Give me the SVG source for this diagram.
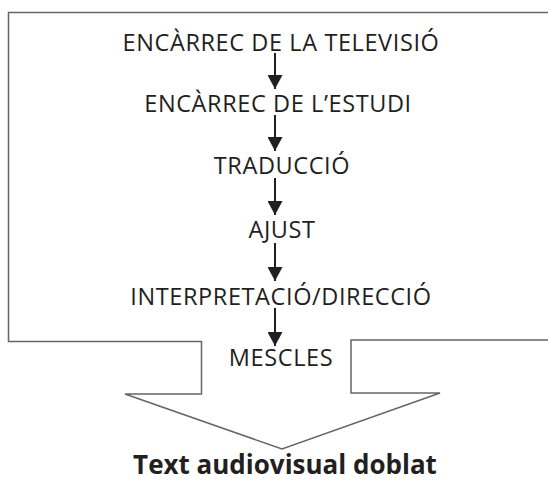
<svg xmlns="http://www.w3.org/2000/svg" width="548" height="481" viewBox="0 0 548 481">
<style>
.lbl{font-family:"Open Sans","Noto Sans",sans-serif;font-size:23.5px;letter-spacing:0.6px;fill:#231f20;text-anchor:middle}
.out{font-family:"Open Sans","Noto Sans",sans-serif;font-size:26px;font-weight:bold;fill:#231f20;text-anchor:middle}
.edge{stroke:#231f20;stroke-width:2;fill:none}
.frame{stroke:#666;stroke-width:1.5;fill:none}
</style>
<defs>
<marker id="ah" viewBox="0 0 14 15" refX="14" refY="7.5" markerWidth="14" markerHeight="15" markerUnits="userSpaceOnUse" orient="auto">
<path d="M0,0 L14,7.5 L0,15 Z" fill="#231f20"/>
</marker>
</defs>
<g id="frame">
<path class="frame" d="M548,12.5 H8.5 V341.5 H201.5 V394 H125 L282,449 L440,393 H351 V340 H548"/>
</g>
<g id="connectors">
<line class="edge" x1="275" y1="53" x2="275" y2="89" marker-end="url(#ah)"/>
<line class="edge" x1="275" y1="115" x2="275" y2="151" marker-end="url(#ah)"/>
<line class="edge" x1="275" y1="178" x2="275" y2="215" marker-end="url(#ah)"/>
<line class="edge" x1="275" y1="243" x2="275" y2="281" marker-end="url(#ah)"/>
<line class="edge" x1="275" y1="308" x2="275" y2="346" marker-end="url(#ah)"/>
</g>
<g id="n1"><text class="lbl" x="281" y="50.5">ENCÀRREC DE LA TELEVISIÓ</text></g>
<g id="n2"><text class="lbl" x="278" y="111.5">ENCÀRREC DE L’ESTUDI</text></g>
<g id="n3"><text class="lbl" x="282" y="173.5">TRADUCCIÓ</text></g>
<g id="n4"><text class="lbl" x="282" y="237.5">AJUST</text></g>
<g id="n5"><text class="lbl" x="281" y="304.5">INTERPRETACIÓ/DIRECCIÓ</text></g>
<g id="n6"><text class="lbl" x="281" y="365.5">MESCLES</text></g>
<g id="out"><text class="out" x="285" y="474">Text audiovisual doblat</text></g>
</svg>
